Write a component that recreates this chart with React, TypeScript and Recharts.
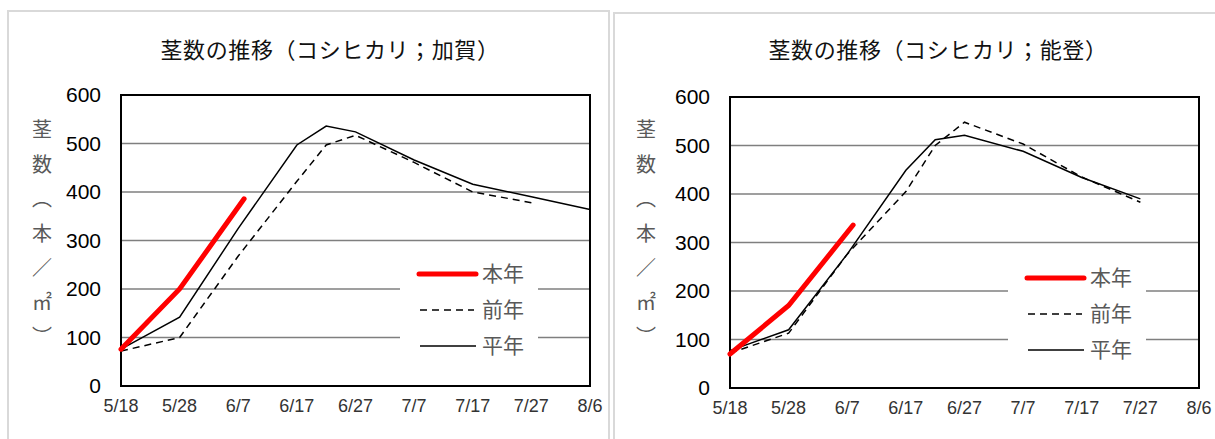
import React from "react";
import {
    LineChart,
    Line,
    XAxis,
    YAxis,
    CartesianGrid,
    ReferenceArea,
    Legend,
} from "recharts";

// x axis: days counted from 5/18
const TICK_DAYS = [0, 10, 20, 30, 40, 50, 60, 70, 80];
const TICK_LABELS = ["5/18", "5/28", "6/7", "6/17", "6/27", "7/7", "7/17", "7/27", "8/6"];
const Y_TICKS = [0, 100, 200, 300, 400, 500, 600];
const Y_LABEL_CHARS = ["茎", "数", "︵", "本", "／", "㎡", "︶"];
const SERIES_NAMES = ["本年", "前年", "平年"];

// 加賀
const KAGA_THIS_DAYS = [0, 10, 21];
const KAGA_THIS = [76, 200, 386];
const KAGA_PREV_DAYS = [0, 10, 20, 30, 35, 40, 50, 60, 70];
const KAGA_PREV = [72, 100, 268, 422, 497, 517, 461, 400, 378];
const KAGA_NORM_DAYS = [0, 10, 20, 30, 35, 40, 50, 60, 70, 80];
const KAGA_NORM = [76, 142, 325, 497, 536, 524, 466, 416, 390, 364];

// 能登
const NOTO_THIS_DAYS = [0, 10, 21];
const NOTO_THIS = [70, 170, 336];
const NOTO_PREV_DAYS = [0, 10, 20, 30, 35, 40, 50, 60, 70];
const NOTO_PREV = [72, 113, 276, 405, 500, 548, 503, 435, 383];
const NOTO_NORM_DAYS = [0, 10, 20, 30, 35, 40, 50, 60, 70];
const NOTO_NORM = [77, 120, 276, 449, 512, 521, 488, 434, 390];

const toPoints = (days: number[], values: number[]) =>
    days.map((d, i) => ({ day: d, value: values[i] }));

const NARROW = "'Liberation Sans Narrow', 'Liberation Sans', sans-serif";
const JP = "'Noto Sans CJK JP', sans-serif";

function LegendBox() {
    const rows = [20, 56, 92];
    return (
        <svg width={138} height={112}>
            <line x1={19} x2={76} y1={rows[0]} y2={rows[0]} stroke="#ff0000" strokeWidth={5} strokeLinecap="round" />
            <line x1={20} x2={74} y1={rows[1]} y2={rows[1]} stroke="#000" strokeWidth={1.5} strokeDasharray="7 5" />
            <line x1={20} x2={76} y1={rows[2]} y2={rows[2]} stroke="#000" strokeWidth={1.5} />
            {SERIES_NAMES.map((n, i) => (
                <text key={n} x={82} y={rows[i]} dy="0.35em" fontSize={21} fill="#595959" fontFamily={JP}>
                    {n}
                </text>
            ))}
        </svg>
    );
}

interface PanelProps {
    left: number;
    title: string;
    titleCenter: number;
    margin: { top: number; right: number; bottom: number; left: number };
    labelX: number;
    legendPos: { left: number; top: number };
    thisYear: { day: number; value: number }[];
    prevYear: { day: number; value: number }[];
    normYear: { day: number; value: number }[];
}

function Panel(p: PanelProps) {
    const yLabel = () => (
        <g>
            {Y_LABEL_CHARS.map((c, i) => (
                <text key={i} x={p.labelX} y={130 + i * 34.5} dy="0.35em" textAnchor="middle" fontSize={20} fill="#595959" fontFamily={JP}>
                    {c}
                </text>
            ))}
        </g>
    );
    return (
        <div style={{ position: "absolute", left: p.left, top: 0, width: 605, height: 439 }}>
            <div
                style={{
                    position: "absolute",
                    left: p.titleCenter - 250,
                    width: 500,
                    top: 32,
                    textAlign: "center",
                    fontFamily: JP,
                    fontSize: 22,
                    letterSpacing: 0.6,
                    color: "#111",
                    zIndex: 2,
                }}
            >
                {p.title}
            </div>
            <LineChart width={605} height={439} margin={p.margin}>
                <CartesianGrid horizontal vertical={false} stroke="#7f7f7f" strokeWidth={1.5} />
                <XAxis
                    type="number"
                    dataKey="day"
                    domain={[0, 80]}
                    ticks={TICK_DAYS}
                    tickFormatter={(v) => TICK_LABELS[TICK_DAYS.indexOf(v)]}
                    axisLine={false}
                    tickLine={false}
                    tickSize={0}
                    tickMargin={13}
                    interval={0}
                    tick={{ fontSize: 18, fill: "#333", fontFamily: NARROW }}
                />
                <YAxis
                    type="number"
                    domain={[0, 600]}
                    ticks={Y_TICKS}
                    axisLine={false}
                    tickLine={false}
                    tickSize={0}
                    tickMargin={20}
                    width={60}
                    interval={0}
                    tick={{ fontSize: 21, fill: "#000", fontFamily: NARROW }}
                    label={{ content: yLabel }}
                />
                <Line data={p.prevYear} dataKey="value" name="前年" type="linear" stroke="#000" strokeWidth={1.5} strokeDasharray="7 5" dot={false} isAnimationActive={false} />
                <Line data={p.normYear} dataKey="value" name="平年" type="linear" stroke="#000" strokeWidth={1.5} dot={false} isAnimationActive={false} />
                <Line data={p.thisYear} dataKey="value" name="本年" type="linear" stroke="#ff0000" strokeWidth={5} strokeLinecap="round" dot={false} isAnimationActive={false} />
                <ReferenceArea x1={0} x2={80} y1={0} y2={600} fill="none" fillOpacity={0} stroke="#000" strokeWidth={2} />
                <Legend
                    layout="vertical"
                    align="center"
                    verticalAlign="middle"
                    content={() => <LegendBox />}
                    wrapperStyle={{ left: p.legendPos.left, top: p.legendPos.top, width: 138, height: 112, background: "#fff" }}
                />
            </LineChart>
        </div>
    );
}

export default function App() {
    return (
        <div style={{ position: "absolute", left: 0, top: 0, width: 1215, height: 439, background: "#fff", overflow: "hidden" }}>
            <div style={{ position: "absolute", left: 7, top: 10, width: 603, height: 460, border: "2px solid #d9d9d9", boxSizing: "border-box" }} />
            <div style={{ position: "absolute", left: 613, top: 12, width: 620, height: 460, border: "2px solid #d9d9d9", boxSizing: "border-box" }} />
            <Panel
                left={0}
                title="茎数の推移（コシヒカリ；加賀）"
                titleCenter={330}
                margin={{ top: 95, right: 15, bottom: 23, left: 61 }}
                labelX={42}
                legendPos={{ left: 400, top: 254 }}
                thisYear={toPoints(KAGA_THIS_DAYS, KAGA_THIS)}
                prevYear={toPoints(KAGA_PREV_DAYS, KAGA_PREV)}
                normYear={toPoints(KAGA_NORM_DAYS, KAGA_NORM)}
            />
            <Panel
                left={610}
                title="茎数の推移（コシヒカリ；能登）"
                titleCenter={328}
                margin={{ top: 97, right: 16, bottom: 21, left: 60 }}
                labelX={36}
                legendPos={{ left: 398, top: 258 }}
                thisYear={toPoints(NOTO_THIS_DAYS, NOTO_THIS)}
                prevYear={toPoints(NOTO_PREV_DAYS, NOTO_PREV)}
                normYear={toPoints(NOTO_NORM_DAYS, NOTO_NORM)}
            />
        </div>
    );
}
